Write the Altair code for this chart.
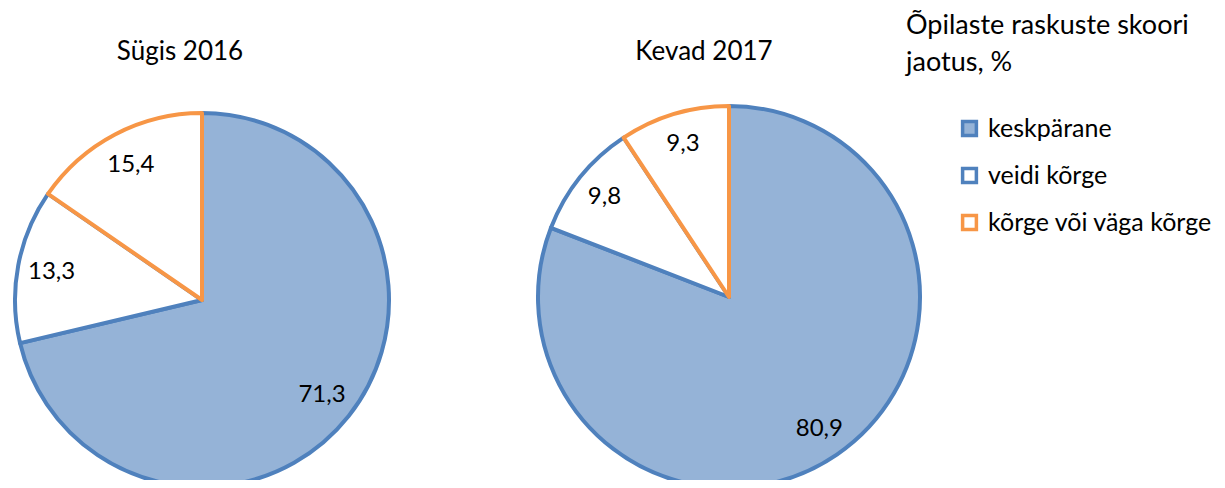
import altair as alt
import pandas as pd

categories = ["keskpärane", "veidi kõrge", "kõrge või väga kõrge"]
autumn_2016 = [71.3, 13.3, 15.4]
spring_2017 = [80.9, 9.8, 9.3]
seasons = ["Sügis 2016", "Kevad 2017"]
legend_title = "Õpilaste raskuste skoori\njaotus, %"

fill_colors = ["#95B3D7", "#FFFFFF", "#FFFFFF"]
stroke_colors = ["#4F81BD", "#4F81BD", "#F79646"]

FONT = "Lato"
TOP = 10  # top padding of the chart

rows = []
for season, vals in zip(seasons, [autumn_2016, spring_2017]):
    for i, (c, v) in enumerate(zip(categories, vals)):
        rows.append({"season": season, "cat": c, "ord": i, "value": v,
                     "label": f"{v:.1f}".replace(".", ",")})
df = pd.DataFrame(rows)

fill_scale = alt.Scale(domain=categories, range=fill_colors)
stroke_scale = alt.Scale(domain=categories, range=stroke_colors)

base = alt.Chart(df)


def pie(season, cx, cy, r, label_r, with_legend):
    src = base.transform_filter(alt.datum.season == season)
    if with_legend:
        leg = alt.Legend(
            title=None, orient="none", legendX=949, legendY=108 - TOP,
            symbolType="square", symbolSize=190, symbolStrokeWidth=3.5,
            labelFont=FONT, labelFontSize=25, labelColor="#000000",
            labelOffset=6, rowPadding=18, padding=0, labelLimit=400,
        )
    else:
        leg = None
    arcs = src.mark_arc(radius=r, strokeWidth=4, strokeJoin="round").encode(
        x=alt.value(cx), y=alt.value(cy),
        theta=alt.Theta("value:Q", stack=True),
        order=alt.Order("ord:Q"),
        fill=alt.Fill("cat:N", scale=fill_scale, sort=categories, legend=leg),
        stroke=alt.Stroke("cat:N", scale=stroke_scale, sort=categories, legend=leg),
    )
    labels = src.mark_text(radius=label_r, font=FONT, fontSize=24,
                           color="#000000").encode(
        x=alt.value(cx), y=alt.value(cy),
        theta=alt.Theta("value:Q", stack=True),
        order=alt.Order("ord:Q"),
        text="label:N",
    )
    return arcs + labels


title_df = pd.DataFrame({"t": seasons})
title1 = alt.Chart(title_df).transform_filter(alt.datum.t == seasons[0]).mark_text(
    font=FONT, fontSize=26, color="#000000", baseline="middle").encode(
    x=alt.value(172), y=alt.value(44 - TOP), text="t:N")
title2 = alt.Chart(title_df).transform_filter(alt.datum.t == seasons[1]).mark_text(
    font=FONT, fontSize=26, color="#000000", baseline="middle").encode(
    x=alt.value(696), y=alt.value(44 - TOP), text="t:N")

lt_df = pd.DataFrame({"t": [legend_title]})
ltitle = alt.Chart(lt_df).mark_text(
    font=FONT, fontSize=27, color="#000000", align="left", baseline="middle",
    lineBreak="\n", lineHeight=37).encode(
    x=alt.value(898), y=alt.value(18 - TOP), text="t:N")

chart = alt.layer(
    pie(seasons[0], 194, 292 - TOP, 187, 153, True),
    pie(seasons[1], 721, 289 - TOP, 191, 160, False),
    title1, title2, ltitle,
).resolve_scale(fill="shared", stroke="shared").properties(
    width=1209, height=472 - TOP,
    padding={"top": TOP, "left": 0, "right": 0, "bottom": 0},
    autosize=alt.AutoSizeParams(type="none"),
).configure_view(stroke=None)

chart.save("out.html", embed_options={"renderer": "svg", "actions": False})
